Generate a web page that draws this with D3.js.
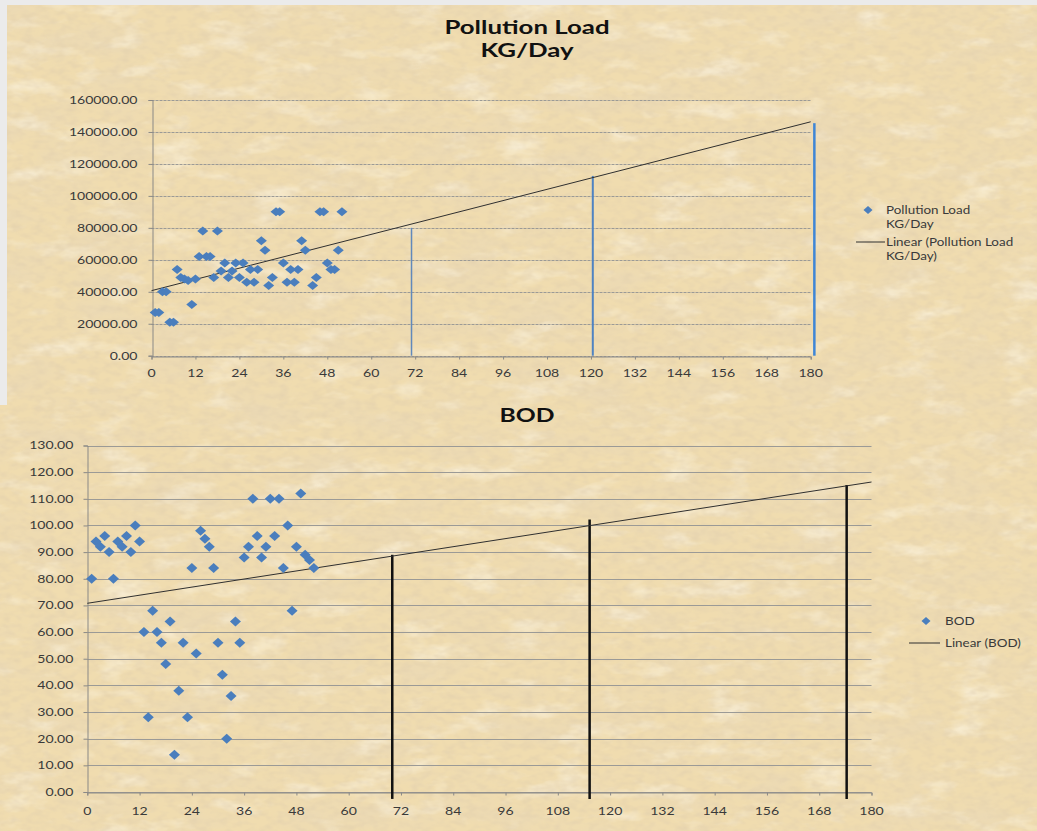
<!DOCTYPE html>
<html>
<head>
<meta charset="utf-8">
<script src="https://cdn.jsdelivr.net/npm/d3@7"></script>
<style>
  html, body { margin: 0; padding: 0; background: #ebebeb; }
  svg { display: block; }
  text { font-family: Lato, "Open Sans", sans-serif; }
</style>
</head>
<body>
<svg id="chart" width="1037" height="831"></svg>
<script>
// ---- Pollution load, kg/day, by week ----
const loadWeeks  = [1, 2, 3, 4, 5, 6, 7, 8, 9, 10, 11, 12, 13, 14, 15, 16, 17, 18, 19, 20,
                    21, 22, 23, 24, 25, 26, 27, 28, 29, 30, 31, 32, 33, 34, 35, 36, 37, 38, 39, 40,
                    41, 42, 44, 45, 46, 47, 48, 49, 50, 51, 52];
const loadValues = [27000, 27000, 40000, 40000, 21000, 21000, 54000, 49000, 48000, 47000, 32000, 48000, 62000, 78000, 62000, 62000, 49000, 78000, 53000, 58000,
                    49000, 53000, 58000, 49000, 58000, 46000, 54000, 46000, 54000, 72000, 66000, 44000, 49000, 90000, 90000, 58000, 46000, 54000, 46000, 54000,
                    72000, 66000, 44000, 49000, 90000, 90000, 58000, 54000, 54000, 66000, 90000];
const loadTrend = [40700, 587];           // intercept, slope of the linear fit
const loadMarkWeeks = [71, 120.5, 181];   // projection markers
const loadMarkTops  = [80000, 112500, 145500];
const loadYTicks = [0, 20000, 40000, 60000, 80000, 100000, 120000, 140000, 160000];

// ---- BOD by week ----
const bodWeeks  = [1, 2, 3, 4, 5, 6, 7, 8, 9, 10, 11, 12, 13, 14, 15, 16, 17, 18, 19, 20,
                   21, 22, 23, 24, 25, 26, 27, 28, 29, 30, 31, 32, 33, 34, 35, 36, 37, 38, 39, 40,
                   41, 42, 43, 44, 45, 46, 47, 48, 49, 50, 51, 52];
const bodValues = [80, 94, 92, 96, 90, 80, 94, 92, 96, 90, 100, 94, 60, 28, 68, 60, 56, 48, 64, 14,
                   38, 56, 28, 84, 52, 98, 95, 92, 84, 56, 44, 20, 36, 64, 56, 88, 92, 110, 96, 88,
                   92, 110, 96, 110, 84, 100, 68, 92, 112, 89, 87, 84];
const bodTrend = [70.8, 0.2528];
const bodMarkWeeks = [70, 115.3, 174.3];
const bodMarkBase  = -2.6;
const bodMarkTops  = [89, 102.2, 115.2];
const bodYTicks = [0, 10, 20, 30, 40, 50, 60, 70, 80, 90, 100, 110, 120, 130];

const xTicks = [0, 12, 24, 36, 48, 60, 72, 84, 96, 108, 120, 132, 144, 156, 168, 180];

const SX = 1.28;            // horizontal stretch of all lettering
const BLUE = "#4a7ebd";
const GRID = "#9b9a96";
const INK = "#3a3a3a";

const svg = d3.select("#chart");
const defs = svg.append("defs");

// parchment texture: soft blotches plus fine grain
const f = defs.append("filter").attr("id", "paper")
  .attr("x", 0).attr("y", 0).attr("width", "100%").attr("height", "100%");
f.append("feTurbulence").attr("type", "fractalNoise")
  .attr("baseFrequency", "0.014 0.035").attr("numOctaves", 5).attr("seed", 11).attr("result", "n1");
f.append("feColorMatrix").attr("in", "n1").attr("type", "matrix")
  .attr("values", "0 0 0 0 0.82  0 0 0 0 0.69  0 0 0 0 0.47  1.7 0 0 0 -0.72").attr("result", "dark");
f.append("feTurbulence").attr("type", "fractalNoise")
  .attr("baseFrequency", "0.02 0.05").attr("numOctaves", 4).attr("seed", 4).attr("result", "n2");
f.append("feColorMatrix").attr("in", "n2").attr("type", "matrix")
  .attr("values", "0 0 0 0 0.98  0 0 0 0 0.93  0 0 0 0 0.80  -1.6 0 0 0 0.74").attr("result", "light");
f.append("feTurbulence").attr("type", "fractalNoise")
  .attr("baseFrequency", "0.09 0.16").attr("numOctaves", 2).attr("seed", 21).attr("result", "n3");
f.append("feColorMatrix").attr("in", "n3").attr("type", "matrix")
  .attr("values", "0 0 0 0 0.75  0 0 0 0 0.62  0 0 0 0 0.42  1.2 0 0 0 -0.48").attr("result", "grain");
const m = f.append("feMerge").attr("result", "tex");
m.append("feMergeNode").attr("in", "dark");
m.append("feMergeNode").attr("in", "light");
m.append("feMergeNode").attr("in", "grain");
f.append("feComposite").attr("in", "tex").attr("in2", "SourceGraphic").attr("operator", "in");

function paper(d) {
  svg.append("path").attr("d", d).attr("fill", "#f0dcaf");
  svg.append("path").attr("d", d).attr("fill", "#fff").attr("filter", "url(#paper)");
}
paper("M7,5H1037V391H7Z");
paper("M7,391H1037V831H0V405H7Z");

function txt(g, x, y, s, opts = {}) {
  return g.append("text")
    .attr("transform", `translate(${x},${y}) scale(${opts.sx || SX},1)`)
    .attr("text-anchor", opts.anchor || "start")
    .attr("font-size", opts.size || 11)
    .attr("font-weight", opts.weight || "normal")
    .attr("fill", opts.fill || INK)
    .attr("dominant-baseline", opts.baseline || "auto")
    .text(s);
}

const diamond = (w, h) => `M0,${-h}L${w},0L0,${h}L${-w},0Z`;

function panel(cfg) {
  const g = svg.append("g");
  const x = d3.scaleLinear().domain([0, 180]).range(cfg.xRange);
  const y = d3.scaleLinear().domain(cfg.yDomain).range(cfg.yRange);
  const [x0, x1] = cfg.xRange;

  // gridlines
  g.append("g").selectAll("line").data(cfg.yTicks).join("line")
    .attr("x1", x0).attr("x2", x1)
    .attr("y1", d => Math.round(y(d)) + 0.5).attr("y2", d => Math.round(y(d)) + 0.5)
    .attr("stroke", GRID).attr("stroke-width", 1).attr("stroke-dasharray", cfg.gridDash);

  // y axis
  const ya = g.append("g").attr("transform", `translate(${Math.round(x0) + 0.5},0)`)
    .call(d3.axisLeft(y).tickValues(cfg.yTicks).tickSize(4).tickFormat(() => ""));
  ya.select(".domain").attr("stroke", "#8a8986");
  ya.selectAll(".tick line").attr("stroke", "#8a8986");
  cfg.yTicks.forEach(v => txt(g, x0 - 14, y(v), d3.format(".2f")(v),
    { anchor: "end", baseline: "central", size: 11 }));

  // x axis
  const xa = g.append("g").attr("transform", `translate(0,${Math.round(y(0)) + 0.5})`)
    .call(d3.axisBottom(x).tickValues(xTicks).tickSize(3).tickFormat(() => ""));
  xa.select(".domain").attr("stroke", "#8a8986");
  xa.selectAll(".tick line").attr("stroke", "#8a8986");
  xTicks.forEach(v => txt(g, x(v), y(0) + cfg.xLabelDy, String(v), { anchor: "middle", size: 11 }));

  // projection markers
  g.append("g").selectAll("line").data(cfg.markWeeks).join("line")
    .attr("x1", d => x(d)).attr("x2", d => x(d))
    .attr("y1", y(cfg.markBase)).attr("y2", (d, i) => y(cfg.markTops[i]))
    .attr("stroke", (d, i) => cfg.markColor[i]).attr("stroke-width", (d, i) => cfg.markWidth[i]);

  // linear trend
  g.append("line")
    .attr("x1", x(0)).attr("y1", y(cfg.trend[0]))
    .attr("x2", x(180)).attr("y2", y(cfg.trend[0] + cfg.trend[1] * 180))
    .attr("stroke", "#2f2f2f").attr("stroke-width", 1);

  // weekly points
  g.append("g").selectAll("path").data(cfg.weeks).join("path")
    .attr("transform", (d, i) => `translate(${x(d)},${y(cfg.values[i])})`)
    .attr("d", diamond(cfg.dw, cfg.dh)).attr("fill", BLUE);

  // title
  cfg.title.forEach((t, i) => txt(g, 527, cfg.titleY + i * 23, t,
    { anchor: "middle", size: cfg.titleSize, weight: "bold", fill: "#111", sx: cfg.titleSx }));

  // legend
  const L = cfg.legend;
  g.append("path").attr("transform", `translate(${L.dx},${L.dy})`)
    .attr("d", diamond(4.5, 4)).attr("fill", BLUE);
  L.series.forEach((t, i) => txt(g, L.tx, L.dy + 4 + i * 14, t, { size: 10.5 }));
  g.append("line").attr("x1", L.lx0).attr("x2", L.lx1).attr("y1", L.ly).attr("y2", L.ly)
    .attr("stroke", "#2f2f2f").attr("stroke-width", 1);
  L.trend.forEach((t, i) => txt(g, L.tx, L.ly + 4 + i * 14, t, { size: 10.5 }));
}

panel({
  xRange: [151.5, 810.7], yDomain: [0, 160000], yRange: [355.7, 100],
  yTicks: loadYTicks, gridDash: "3,1", xLabelDy: 21,
  weeks: loadWeeks, values: loadValues, trend: loadTrend,
  markWeeks: loadMarkWeeks, markBase: 0, markTops: loadMarkTops,
  markColor: ["#6189bb", "#4f83c2", "#3f86d6"], markWidth: [1.5, 2, 2.5],
  dw: 5.5, dh: 4.5,
  title: ["Pollution Load", "KG/Day"], titleY: 34, titleSize: 19, titleSx: 1.36,
  legend: { dx: 868, dy: 210, tx: 886, series: ["Pollution Load", "KG/Day"],
            lx0: 856, lx1: 885, ly: 242, trend: ["Linear (Pollution Load", "KG/Day)"] }
});

panel({
  xRange: [87.3, 871.5], yDomain: [0, 130], yRange: [792, 445.5],
  yTicks: bodYTicks, gridDash: null, xLabelDy: 23,
  weeks: bodWeeks, values: bodValues, trend: bodTrend,
  markWeeks: bodMarkWeeks, markBase: bodMarkBase, markTops: bodMarkTops,
  markColor: ["#111", "#111", "#111"], markWidth: [2.5, 2.5, 2.5],
  dw: 5.5, dh: 5,
  title: ["BOD"], titleY: 422, titleSize: 19, titleSx: 1.3,
  legend: { dx: 926, dy: 621, tx: 945, series: ["BOD"],
            lx0: 909, lx1: 940, ly: 643, trend: ["Linear (BOD)"] }
});
</script>
</body>
</html>
